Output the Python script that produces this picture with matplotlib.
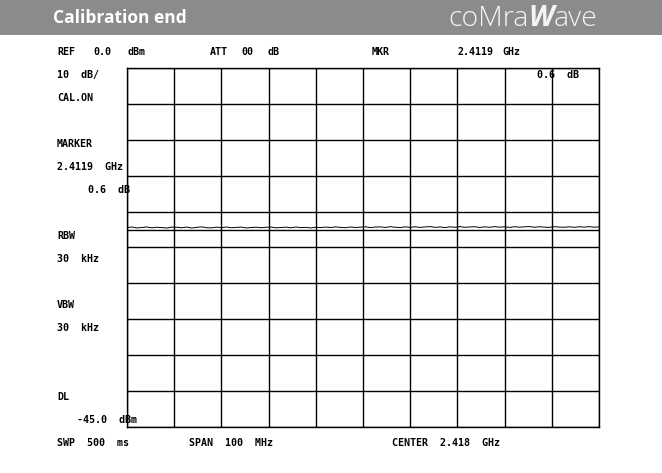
import numpy as np
import matplotlib
matplotlib.use("Agg")
import matplotlib.pyplot as plt

# ---- data ----
center_ghz = 2.418
span_mhz = 100.0
ref_dbm = 0.0
db_per_div = 10.0
display_line_dbm = -45.0
trace_dbm = [
    -44.45, -44.30, -44.55, -44.42, -44.28, -44.52, -44.35, -44.45, -44.58, -44.32,
    -44.36, -44.50, -44.31, -44.57, -44.38, -44.26, -44.48, -44.53, -44.33, -44.46,
    -44.29, -44.50, -44.40, -44.31, -44.55, -44.43, -44.34, -44.49, -44.36, -44.30,
    -44.52, -44.42, -44.33, -44.50, -44.29, -44.47, -44.38, -44.56, -44.34, -44.45,
    -44.31, -44.44, -44.25, -44.41, -44.48, -44.28, -44.43, -44.33, -44.22, -44.46,
    -44.30, -44.26, -44.41, -44.20, -44.36, -44.44, -44.25, -44.38, -44.23, -44.40,
    -44.27, -44.19, -44.39, -44.28, -44.44, -44.24, -44.36, -44.18, -44.38, -44.27,
    -44.22, -44.41, -44.25, -44.37, -44.19, -44.34, -44.23, -44.40, -44.21, -44.35,
    -44.24, -44.17, -44.36, -44.22, -44.33, -44.39, -44.20, -44.32, -44.36, -44.23,
    -44.38, -44.22, -44.33, -44.19, -44.35, -44.26,
]
freq_ghz = np.linspace(center_ghz - span_mhz / 2000, center_ghz + span_mhz / 2000, len(trace_dbm))

W, H = 662, 473
fig = plt.figure(figsize=(W / 100, H / 100), dpi=100)
fig.patch.set_facecolor("white")

def fx(px):
    return px / W

def fy(py):
    return 1 - py / H

# header band
band = fig.add_axes([0, fy(35), 1, 35 / H])
band.set_axis_off()
band.add_patch(plt.Rectangle((0, 0), 1, 1, color="#8b8b8b", transform=band.transAxes))
fig.text(fx(53), fy(18), "Calibration end", color="white", fontsize=12.5,
         fontweight="bold", family="Open Sans", va="center", ha="left")

# logo
logo_parts = [("coMra", "light", "normal"), ("W", "bold", "italic"), ("ave", "light", "normal")]
fig.canvas.draw()
renderer = fig.canvas.get_renderer()
x = 448
for txt, wt, st in logo_parts:
    t = fig.text(fx(x), fy(19), txt, color="#f4f4f4", fontsize=20.5, fontweight=wt,
                 style=st, family="Open Sans", va="center", ha="left")
    bb = t.get_window_extent(renderer)
    x += bb.width

# plot axes
L, R, T, B = 127, 599, 68, 427
ax = fig.add_axes([fx(L), fy(B), (R - L) / W, (B - T) / H])
fmin = center_ghz - span_mhz / 2000
fmax = center_ghz + span_mhz / 2000
ymax = ref_dbm
ymin = ref_dbm - 10 * db_per_div
ax.set_xlim(fmin, fmax)
ax.set_ylim(ymin, ymax)
ax.set_xticks(np.linspace(fmin, fmax, 11))
ax.set_yticks(np.linspace(ymin, ymax, 11))
ax.grid(True, color="black", linewidth=1.0)
ax.tick_params(length=0, labelbottom=False, labelleft=False)
for s in ax.spines.values():
    s.set_color("black")
    s.set_linewidth(1.0)
ax.axhline(display_line_dbm, color="black", linewidth=1.0)
ax.plot(freq_ghz, trace_dbm, color="black", linewidth=0.7)

mono = dict(family="DejaVu Sans Mono", fontweight="bold", fontsize=7.2,
            color="black", va="center", ha="left")

labels = [
    (57, 52, "REF"), (93, 52, "0.0"), (127, 52, "dBm"),
    (210, 52, "ATT"), (241, 52, "00"), (267, 52, "dB"),
    (372, 52, "MKR"), (457, 52, "2.4119"), (502, 52, "GHz"),
    (57, 75, "10  dB/"),
    (57, 98, "CAL.ON"),
    (57, 144, "MARKER"),
    (57, 167, "2.4119  GHz"),
    (88, 190, "0.6  dB"),
    (57, 236, "RBW"),
    (57, 259, "30  kHz"),
    (57, 305, "VBW"),
    (57, 328, "30  kHz"),
    (57, 397, "DL"),
    (77, 420, "-45.0  dBm"),
    (57, 443, "SWP  500  ms"),
    (189, 443, "SPAN  100  MHz"),
    (392, 443, "CENTER  2.418  GHz"),
    (537, 75, "0.6  dB"),
]
for px, py, s in labels:
    fig.text(fx(px), fy(py), s, **mono)

fig.savefig("out.png", dpi=100)
